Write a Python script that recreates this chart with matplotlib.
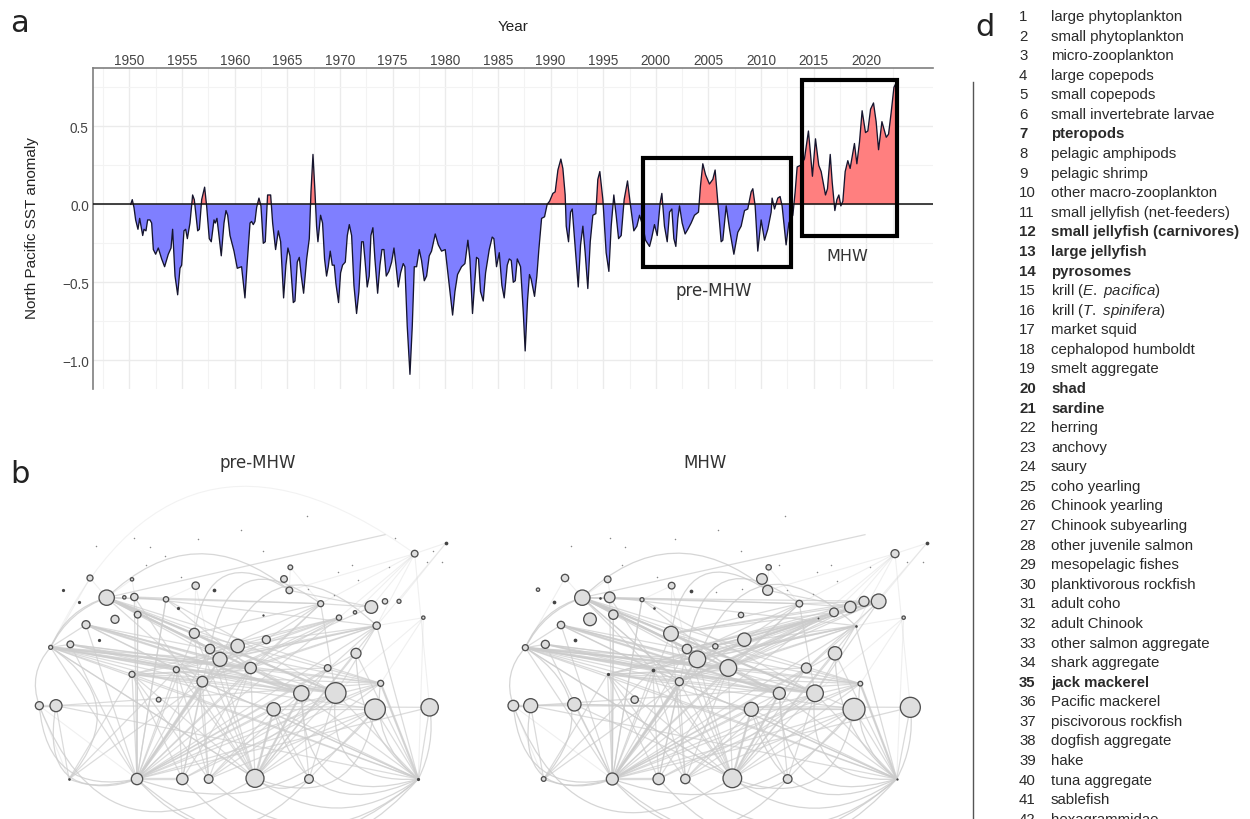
import matplotlib
matplotlib.use('Agg')
import numpy as np
import matplotlib.pyplot as plt
from matplotlib.lines import Line2D
from matplotlib.patches import Circle, PathPatch, Rectangle
from matplotlib.path import Path

plt.rcParams['font.family'] = ['Liberation Sans', 'DejaVu Sans']
plt.rcParams['mathtext.fontset'] = 'custom'
plt.rcParams['mathtext.rm'] = 'Liberation Sans'
plt.rcParams['mathtext.it'] = 'Liberation Sans:italic'
plt.rcParams['mathtext.bf'] = 'Liberation Sans:bold'

W, H = 1250, 820

# panel a: North Pacific SST anomaly
sst_year = [
    1950.13, 1950.28, 1950.44, 1950.60, 1950.82, 1950.98, 1951.27, 1951.39, 1951.58, 1951.74,
    1951.96, 1952.12, 1952.28, 1952.50, 1952.75, 1953.07, 1953.35, 1953.70, 1953.96, 1954.11,
    1954.34, 1954.59, 1954.81, 1954.97, 1955.19, 1955.35, 1955.51, 1955.76, 1956.01, 1956.17,
    1956.49, 1956.65, 1956.87, 1957.15, 1957.34, 1957.59, 1957.78, 1958.04, 1958.16, 1958.32,
    1958.48, 1958.73, 1958.99, 1959.18, 1959.34, 1959.56, 1959.94, 1960.25, 1960.66, 1960.98,
    1961.20, 1961.46, 1961.61, 1961.77, 1961.93, 1962.09, 1962.31, 1962.50, 1962.72, 1962.91,
    1963.13, 1963.42, 1963.61, 1963.89, 1964.15, 1964.37, 1964.65, 1964.87, 1965.06, 1965.25,
    1965.57, 1965.73, 1965.95, 1966.14, 1966.33, 1966.55, 1966.84, 1967.09, 1967.25, 1967.44,
    1967.63, 1967.78, 1967.91, 1968.16, 1968.35, 1968.54, 1968.73, 1968.89, 1969.08, 1969.27,
    1969.46, 1969.62, 1969.87, 1970.06, 1970.25, 1970.51, 1970.70, 1970.89, 1971.11, 1971.33,
    1971.58, 1971.80, 1972.06, 1972.22, 1972.37, 1972.59, 1972.78, 1972.94, 1973.13, 1973.32,
    1973.58, 1973.80, 1973.99, 1974.18, 1974.40, 1974.65, 1974.91, 1975.13, 1975.32, 1975.54,
    1975.76, 1976.01, 1976.17, 1976.39, 1976.65, 1976.87, 1977.06, 1977.28, 1977.53, 1977.75,
    1978.01, 1978.23, 1978.48, 1978.70, 1979.05, 1979.34, 1979.65, 1980.00, 1980.28, 1980.70,
    1980.92, 1981.17, 1981.55, 1981.87, 1982.15, 1982.34, 1982.59, 1982.82, 1982.97, 1983.16,
    1983.35, 1983.61, 1983.83, 1984.18, 1984.46, 1984.62, 1984.87, 1985.13, 1985.38, 1985.60,
    1985.89, 1986.08, 1986.27, 1986.46, 1986.65, 1986.84, 1987.15, 1987.41, 1987.59, 1987.82,
    1988.00, 1988.16, 1988.48, 1988.70, 1988.89, 1989.15, 1989.43, 1989.68, 1989.91, 1990.22,
    1990.44, 1990.70, 1990.98, 1991.17, 1991.39, 1991.49, 1991.71, 1991.90, 1992.06, 1992.28,
    1992.63, 1992.85, 1993.07, 1993.29, 1993.54, 1993.77, 1994.02, 1994.30, 1994.49, 1994.68,
    1994.97, 1995.28, 1995.54, 1995.76, 1996.01, 1996.23, 1996.46, 1996.71, 1996.99, 1997.31,
    1997.56, 1997.91, 1998.20, 1998.45, 1998.77, 1999.02, 1999.40, 1999.59, 1999.87, 2000.13,
    2000.41, 2000.57, 2000.82, 2001.08, 2001.30, 2001.52, 2001.71, 2001.90, 2002.09, 2002.25,
    2002.50, 2002.78, 2003.04, 2003.35, 2003.67, 2004.05, 2004.24, 2004.46, 2004.72, 2005.09,
    2005.41, 2005.63, 2005.89, 2006.20, 2006.36, 2006.68, 2007.00, 2007.41, 2007.78, 2008.10,
    2008.42, 2008.73, 2009.05, 2009.21, 2009.43, 2009.68, 2010.00, 2010.32, 2010.63, 2010.95,
    2011.04, 2011.27, 2011.58, 2011.80, 2011.99, 2012.37, 2012.63, 2013.01, 2013.23, 2013.42,
    2013.73, 2014.11, 2014.49, 2014.68, 2014.87, 2015.16, 2015.47, 2015.70, 2016.11, 2016.30,
    2016.56, 2016.75, 2017.00, 2017.19, 2017.38, 2017.57, 2017.76, 2017.98, 2018.23, 2018.45,
    2018.86, 2019.09, 2019.34, 2019.59, 2019.91, 2020.13, 2020.39, 2020.67, 2020.92, 2021.15,
    2021.47, 2021.88, 2022.10, 2022.35, 2022.61, 2022.83,
]
sst_anom = [
    0.00, 0.03, -0.02, -0.10, -0.16, -0.09, -0.20, -0.16, -0.17, -0.10,
    -0.10, -0.12, -0.29, -0.32, -0.28, -0.35, -0.40, -0.32, -0.28, -0.16,
    -0.46, -0.58, -0.41, -0.39, -0.17, -0.16, -0.22, -0.12, 0.06, 0.03,
    -0.17, -0.16, 0.03, 0.11, -0.01, -0.22, -0.24, -0.10, -0.12, -0.09,
    -0.18, -0.33, -0.12, -0.04, -0.07, -0.20, -0.30, -0.41, -0.40, -0.60,
    -0.37, -0.12, -0.11, -0.13, -0.11, -0.02, 0.04, -0.01, -0.25, -0.24,
    0.06, 0.06, -0.12, -0.29, -0.17, -0.24, -0.60, -0.39, -0.28, -0.33,
    -0.63, -0.62, -0.37, -0.34, -0.46, -0.57, -0.35, -0.22, 0.08, 0.32,
    0.08, -0.14, -0.24, -0.07, -0.12, -0.35, -0.46, -0.40, -0.30, -0.39,
    -0.39, -0.51, -0.63, -0.44, -0.39, -0.37, -0.20, -0.13, -0.20, -0.52,
    -0.70, -0.56, -0.24, -0.24, -0.35, -0.53, -0.46, -0.20, -0.15, -0.35,
    -0.57, -0.39, -0.29, -0.29, -0.46, -0.43, -0.37, -0.28, -0.39, -0.53,
    -0.44, -0.38, -0.40, -0.78, -1.09, -0.78, -0.40, -0.40, -0.29, -0.36,
    -0.49, -0.46, -0.33, -0.30, -0.19, -0.26, -0.30, -0.29, -0.46, -0.71,
    -0.56, -0.45, -0.40, -0.38, -0.23, -0.35, -0.70, -0.48, -0.34, -0.35,
    -0.56, -0.62, -0.44, -0.29, -0.21, -0.22, -0.40, -0.31, -0.52, -0.60,
    -0.39, -0.35, -0.36, -0.50, -0.49, -0.35, -0.40, -0.69, -0.94, -0.61,
    -0.45, -0.48, -0.59, -0.46, -0.29, -0.09, -0.08, 0.00, 0.02, 0.07,
    0.08, 0.22, 0.29, 0.23, 0.06, -0.14, -0.24, -0.05, -0.03, -0.22,
    -0.53, -0.26, -0.14, -0.31, -0.54, -0.24, -0.07, -0.06, 0.16, 0.21,
    0.03, -0.31, -0.43, -0.14, 0.06, -0.07, -0.22, -0.20, 0.03, 0.15,
    0.01, -0.17, -0.14, -0.07, -0.14, -0.23, -0.27, -0.22, -0.13, -0.20,
    0.01, 0.07, -0.14, -0.24, -0.05, -0.03, -0.22, -0.27, -0.09, -0.01,
    -0.12, -0.19, -0.16, -0.12, -0.07, -0.05, 0.12, 0.26, 0.19, 0.13,
    0.16, 0.22, 0.01, -0.24, -0.23, -0.01, -0.16, -0.32, -0.18, -0.14,
    -0.04, -0.03, 0.08, 0.10, -0.01, -0.30, -0.10, -0.23, -0.16, -0.05,
    0.04, -0.03, 0.04, 0.05, -0.01, -0.26, -0.12, -0.07, 0.08, 0.24,
    0.25, 0.29, 0.47, 0.33, 0.18, 0.42, 0.25, 0.21, 0.06, 0.10,
    0.32, 0.14, -0.04, 0.03, 0.06, -0.01, 0.02, 0.21, 0.28, 0.23,
    0.39, 0.26, 0.40, 0.60, 0.46, 0.47, 0.61, 0.65, 0.53, 0.35,
    0.53, 0.43, 0.45, 0.59, 0.75, 0.78,
]
year_ticks = [1950, 1955, 1960, 1965, 1970, 1975, 1980, 1985, 1990, 1995, 2000, 2005, 2010, 2015, 2020]
anom_ticks = [-1.0, -0.5, 0.0, 0.5]
pre_mhw_box = [1998.8, 2012.85, -0.405, 0.30]
mhw_box = [2013.86, 2022.9, -0.20, 0.80]

# panels b: node layout (same node order in both panels), x, y, diameter
pre_x = [320, 270, 396, 373, 403, 498, 587, 641, 345, 413, 258, 152, 211, 583, 630, 713, 660, 799, 396, 529,
         752, 607, 983, 1068, 1142, 904, 1007, 821, 1125, 1289, 118, 168, 298, 476, 411, 547, 626, 765, 927, 1255,
         207, 871, 852, 868, 962, 1114, 1155, 1197, 1017, 1065, 1130, 1270, 1244, 1338, 190, 237, 298, 535, 789, 1155]
pre_y = [296, 237, 241, 295, 294, 301, 260, 274, 361, 347, 377, 445, 436, 403, 450, 441, 481, 422, 526, 512,
         507, 548, 507, 463, 553, 583, 582, 631, 631, 625, 620, 620, 616, 602, 840, 840, 840, 838, 840, 840,
         840, 205, 240, 274, 314, 324, 307, 307, 356, 340, 380, 356, 164, 132, 272, 309, 423, 327, 348, 107]
pre_d = [46, 18, 10, 10, 22, 16, 22, 8, 24, 20, 24, 12, 20, 30, 28, 40, 42, 24, 18, 18,
         34, 32, 20, 30, 18, 46, 62, 40, 62, 52, 24, 36, 0, 14, 34, 34, 26, 54, 26, 6,
         4, 14, 20, 20, 18, 38, 16, 12, 16, 10, 22, 10, 20, 8, 6, 6, 6, 6, 3, 0]
mhw_x = [277, 225, 353, 330, 359, 456, 545, 602, 300, 370, 213, 106, 166, 543, 591, 676, 622, 763, 353, 488,
         715, 568, 949, 1035, 1111, 868, 975, 784, 1092, 1261, 70, 122, 253, 434, 367, 506, 586, 727, 893, 1220,
         161, 836, 816, 833, 928, 1081, 1122, 1166, 985, 1032, 1097, 1241, 1215, 1310, 144, 193, 254, 491, 753, 1125]
mhw_y = [296, 237, 241, 296, 295, 302, 260, 275, 361, 347, 378, 446, 436, 404, 450, 442, 481, 422, 526, 512,
         507, 548, 507, 463, 554, 583, 583, 631, 631, 625, 620, 620, 616, 602, 840, 840, 840, 838, 840, 840,
         840, 205, 240, 274, 314, 324, 307, 307, 356, 340, 380, 356, 164, 133, 272, 309, 424, 327, 348, 107]
mhw_d = [46, 22, 20, 4, 32, 12, 20, 8, 38, 28, 22, 18, 24, 44, 28, 16, 50, 40, 6, 8,
         50, 24, 30, 40, 14, 36, 50, 42, 66, 60, 32, 42, 40, 22, 36, 34, 28, 56, 26, 3,
         14, 16, 32, 30, 20, 34, 30, 44, 2, 26, 4, 10, 24, 8, 10, 8, 8, 4, 16, 0]

# tiny species dots
pre_dot_x = [403, 288, 437, 595, 722, 450, 495, 543, 1013, 925, 788, 922, 1185, 1300, 1327, 1280, 1168, 1057, 1073, 1003]
pre_dot_y = [116, 140, 198, 120, 92, 143, 170, 235, 220, 270, 155, 52, 118, 155, 188, 188, 203, 197, 243, 287]
mhw_dot_x = [360, 243, 395, 555, 406, 501, 980, 890, 752, 886, 867, 1023, 1140, 1251, 1298, 1040, 969, 756, 678, 685]
mhw_dot_y = [116, 140, 198, 120, 143, 235, 220, 272, 155, 52, 197, 197, 203, 188, 188, 245, 285, 270, 278, 92]

# food web links, source node -> target nodes
links = {
    34: [18, 9, 19, 21, 13, 16, 20, 25, 26, 24, 27, 28, 22, 23, 44, 48, 50, 29, 10, 5, 14, 15],
    37: [21, 19, 14, 20, 27, 25, 26, 24, 28, 18, 11, 4, 16, 13, 22, 50, 23],
    39: [24, 28, 26, 25, 23, 50, 29, 21, 27, 18, 11, 19, 31],
    36: [21, 19, 20, 13, 27, 25, 26, 18, 28],
    35: [19, 21, 14, 20, 18, 24, 26],
    38: [27, 25, 26, 28],
    40: [21, 18, 31, 19],
    0: [13, 14, 16, 20, 25, 26, 21, 44, 28, 24, 15, 59],
    10: [16, 20, 25, 26, 21, 19, 24],
    11: [19, 21, 16, 20, 25, 26, 24, 18, 34, 37, 27, 12, 10],
    12: [20, 25, 26, 19, 24, 34],
    18: [20, 25, 26, 24, 22, 28],
    44: [13, 21, 19, 20, 26],
    48: [21, 19, 16, 14, 18, 20],
    50: [21, 20, 14, 19, 16, 18, 25, 26],
    45: [44, 43, 21],
    5: [0, 20, 26, 34],
    4: [44, 50, 34],
    13: [25, 26, 24],
    9: [34],
    31: [30, 29, 24],
    27: [28, 24],
}
mhw_links = {
    47: [13, 14, 16, 21, 20, 19, 25, 26, 18, 15, 44],
    46: [13, 16, 21, 20, 14],
    32: [34, 37, 28, 31, 27],
    0: [47, 21, 19],
    49: [13, 16, 21],
}
# the heavier links, source, target
thick_from = [0, 0, 0, 37, 37, 34, 34, 11, 11, 10, 31, 34, 39]
thick_to = [26, 25, 14, 27, 25, 21, 16, 20, 26, 25, 30, 35, 24]
# links that barely show
faint_links = {
    52: [44, 48, 50, 45, 49, 43, 29],
    53: [52, 50, 47],
    51: [24, 50, 26, 39],
    1: [11, 0],
    2: [0, 9],
    6: [13, 5, 14],
    41: [44, 43],
    30: [34, 40],
}
# curved links: source, target, bend
arc_from = [0, 13, 16, 14, 34, 34, 37, 36, 35, 30, 31, 11, 30, 40, 28, 26, 25, 29, 28, 27, 37, 11, 0, 23, 24, 30]
arc_to = [43, 43, 50, 44, 39, 38, 39, 39, 39, 34, 34, 40, 11, 34, 37, 39, 39, 39, 34, 39, 38, 0, 11, 39, 39, 37]
arc_bend = [-0.22, -0.38, -0.36, -0.40, 0.22, 0.28, 0.18, 0.22, 0.28, 0.28, 0.40, -0.28, -0.15, 0.10, -0.30, 0.30, 0.33, -0.08, -0.18, 0.30, 0.18, -0.12, 0.10, 0.12, 0.15, 0.30]
# the wide faint arc over the top of the pre-MHW network
faint_arc_from = [11]
faint_arc_to = [52]
faint_arc_bend = [-0.30]

# panel d: species list, bold entries flagged
species = [
    'large phytoplankton', 'small phytoplankton', 'micro-zooplankton', 'large copepods', 'small copepods',
    'small invertebrate larvae', 'pteropods', 'pelagic amphipods', 'pelagic shrimp', 'other macro-zooplankton',
    'small jellyfish (net-feeders)', 'small jellyfish (carnivores)', 'large jellyfish', 'pyrosomes',
    r'krill ($\mathit{E.\ pacifica}$)', r'krill ($\mathit{T.\ spinifera}$)', 'market squid', 'cephalopod humboldt',
    'smelt aggregate', 'shad', 'sardine', 'herring', 'anchovy', 'saury', 'coho yearling', 'Chinook yearling',
    'Chinook subyearling', 'other juvenile salmon', 'mesopelagic fishes', 'planktivorous rockfish', 'adult coho',
    'adult Chinook', 'other salmon aggregate', 'shark aggregate', 'jack mackerel', 'Pacific mackerel',
    'piscivorous rockfish', 'dogfish aggregate', 'hake', 'tuna aggregate', 'sablefish', 'hexagrammidae',
]
bold_species = [7, 12, 13, 14, 20, 21, 35]


def px_box(left, top, right, bottom):
    return [left / W, 1 - bottom / H, (right - left) / W, (bottom - top) / H]


def fig_text(x, y, s, **kw):
    kw.setdefault('va', 'center')
    fig.text(x / W, 1 - y / H, s, **kw)


fig = plt.figure(figsize=(W / 100, H / 100), dpi=100, facecolor='white')

# ---------------------- panel a
ax = fig.add_axes(px_box(93, 69, 933, 390))
ax.set_xlim(1946.55, 2026.32)
ax.set_ylim(-1.184, 0.874)
yr = np.array(sst_year)
an = np.array(sst_anom)
ax.fill_between(yr, 0, an, where=an >= 0, interpolate=True, color='#ff7f7f', lw=0, zorder=2)
ax.fill_between(yr, 0, an, where=an <= 0, interpolate=True, color='#7f7fff', lw=0, zorder=2)
ax.plot(yr, an, color='#15152e', lw=0.95, zorder=3)
ax.axhline(0, color='#111111', lw=1.1, zorder=3)
for box in (pre_mhw_box, mhw_box):
    ax.add_patch(Rectangle((box[0], box[2]), box[1] - box[0], box[3] - box[2], fill=False,
                           ec='black', lw=3.0, zorder=4, joinstyle='miter', clip_on=False))
ax.set_xticks(year_ticks)
ax.set_yticks(anom_ticks)
ax.set_yticklabels(['\u22121.0', '\u22120.5', '0.0', '0.5'])
ax.set_xticks(np.arange(1947.5, 2026, 5), minor=True)
ax.set_yticks([-0.75, -0.25, 0.25, 0.75], minor=True)
ax.grid(which='major', color='#ebebeb', lw=1.0, zorder=0)
ax.grid(which='minor', color='#f3f3f3', lw=0.8, zorder=0)
ax.set_axisbelow(True)
ax.xaxis.tick_top()
ax.tick_params(which='both', length=0)
ax.tick_params(axis='both', labelsize=9.8, labelcolor='#444444', pad=3)
ax.tick_params(axis='x', pad=1)
for side in ('right', 'bottom'):
    ax.spines[side].set_visible(False)
for side in ('left', 'top'):
    ax.spines[side].set_color('#7f7f7f')
    ax.spines[side].set_linewidth(1.2)
ax.text(2005.5, -0.55, 'pre-MHW', family='DejaVu Sans', fontsize=12, color='#333333', ha='center', va='center', zorder=5)
ax.text(2018.2, -0.325, 'MHW', family='DejaVu Sans', fontsize=11.5, color='#333333', ha='center', va='center', zorder=5)
fig_text(513, 27, 'Year', fontsize=11, color='#222222', ha='center')
fig_text(32, 228, 'North Pacific SST anomaly', fontsize=11, color='#222222', rotation=90, ha='center')

fig_text(20, 24, 'a', family='DejaVu Sans', fontsize=22, ha='center', color='#222222')
fig_text(20, 475, 'b', family='DejaVu Sans', fontsize=22, ha='center', color='#222222')
fig_text(985, 27, 'd', family='DejaVu Sans', fontsize=22, ha='center', color='#222222')
fig_text(258, 463, 'pre-MHW', family='DejaVu Sans', fontsize=12, ha='center', color='#333333')
fig_text(705, 463, 'MHW', family='DejaVu Sans', fontsize=12, ha='center', color='#333333')


# ---------------------- panels b
def curve(xs, ys, a, b, bend):
    mx, my = (xs[a] + xs[b]) / 2, (ys[a] + ys[b]) / 2
    dx, dy = xs[b] - xs[a], ys[b] - ys[a]
    return Path([(xs[a], ys[a]), (mx - bend * dy * 2, my + bend * dx * 2), (xs[b], ys[b])],
                [Path.MOVETO, Path.CURVE3, Path.CURVE3])


def draw_network(left, xs, ys, ds, dot_x, dot_y, extra, edge_c, top_arc):
    a = fig.add_axes(px_box(left, 440, left + 470, 820))
    a.set_xlim(0, 1410)
    a.set_ylim(960, -180)
    a.axis('off')
    for src, targets in faint_links.items():
        for t in targets:
            a.plot([xs[src], xs[t]], [ys[src], ys[t]], color=edge_c, lw=0.8, alpha=0.3, zorder=1)
    for src, targets in list(links.items()) + list(extra.items()):
        for t in targets:
            a.plot([xs[src], xs[t]], [ys[src], ys[t]], color=edge_c, lw=0.9, alpha=0.7, zorder=1)
    for s, t in zip(thick_from, thick_to):
        a.plot([xs[s], xs[t]], [ys[s], ys[t]], color=edge_c, lw=1.7, alpha=0.7, zorder=1)
    for s, t, bend in zip(arc_from, arc_to, arc_bend):
        a.add_patch(PathPatch(curve(xs, ys, s, t, bend), fc='none', ec=edge_c, lw=0.9, alpha=0.8, zorder=1))
    if top_arc:
        for s, t, bend in zip(faint_arc_from, faint_arc_to, faint_arc_bend):
            a.add_patch(PathPatch(curve(xs, ys, s, t, bend), fc='none', ec=edge_c, lw=0.8, alpha=0.25, zorder=1))
    a.scatter(dot_x, dot_y, s=1.2, color='#888888', lw=0, zorder=2)
    for x, y, d in zip(xs, ys, ds):
        if d == 0:
            continue
        if d <= 8:
            a.scatter([x], [y], s=d * 0.9, color='#444444', lw=0, zorder=3)
        else:
            a.add_patch(Circle((x, y), d / 2, fc='#dedede', ec='#505050', lw=0.95, zorder=3))


draw_network(0, pre_x, pre_y, pre_d, pre_dot_x, pre_dot_y, {}, '#cdcdcd', True)
draw_network(490, mhw_x, mhw_y, mhw_d, mhw_dot_x, mhw_dot_y, mhw_links, '#cbcbcb', False)

# ---------------------- panel d
fig.add_artist(Line2D([973 / W, 973 / W], [1 - 83 / H, 0], color='#555555', lw=1.0))
for i, name in enumerate(species):
    y = 17 + i * 19.58
    weight = 'bold' if i + 1 in bold_species else 'normal'
    fig_text(1019, y, str(i + 1), fontsize=10.8, color='#2a2a2a', weight=weight)
    fig_text(1051, y, name, fontsize=10.8, color='#2a2a2a', weight=weight)

fig.savefig('out.png', dpi=100)
